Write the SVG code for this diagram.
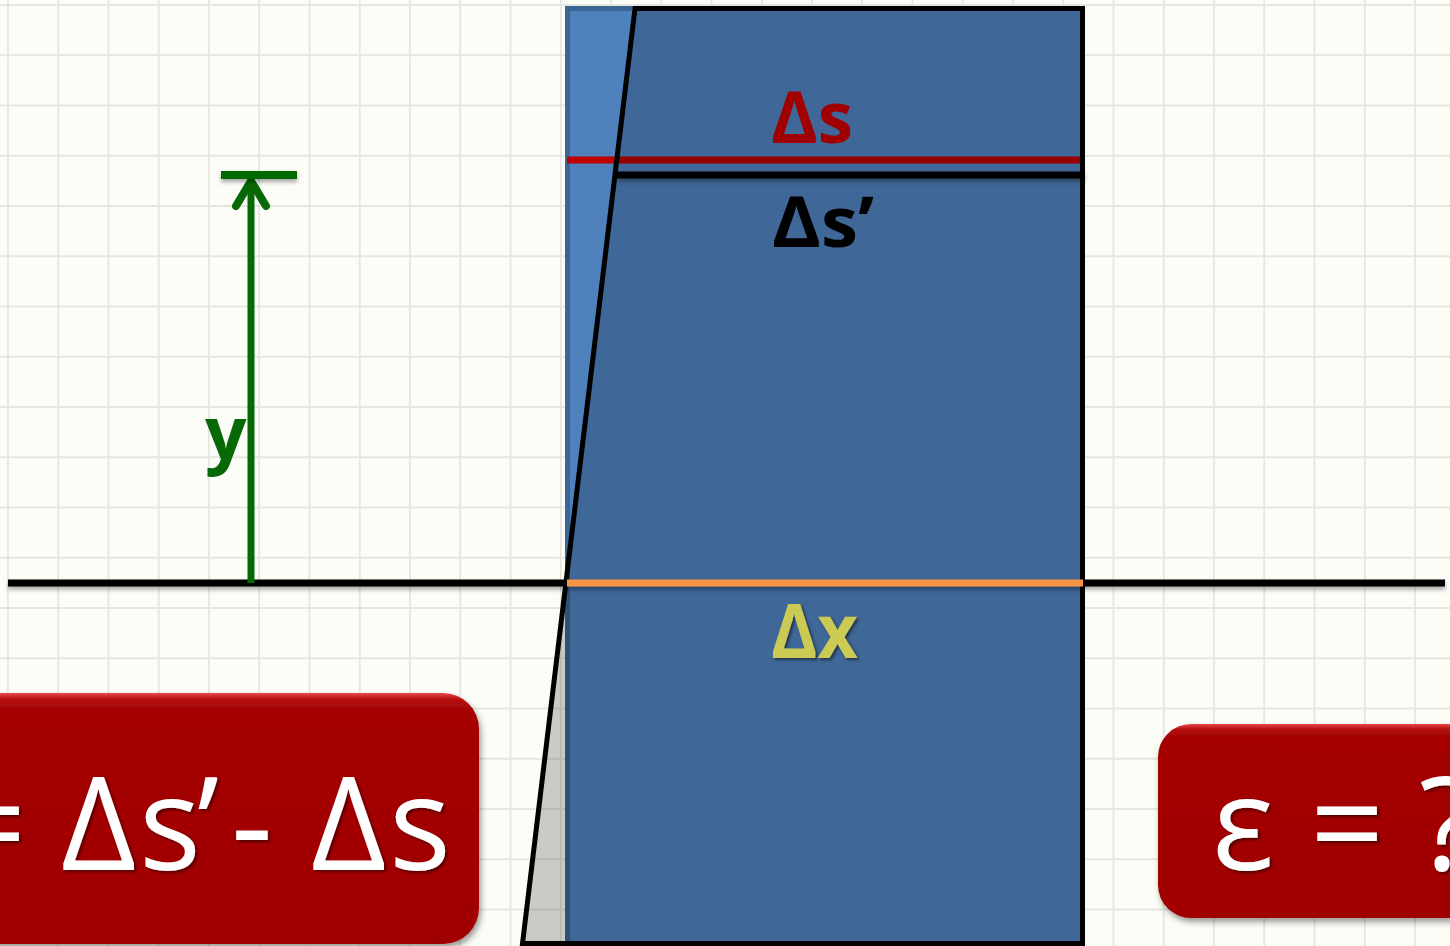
<svg xmlns="http://www.w3.org/2000/svg" width="1450" height="946" viewBox="0 0 1450 946">
<style>
.grid{stroke:#E6E6E1;stroke-width:1.8;fill:none}
.lbl{font-family:"Open Sans","Noto Sans","Liberation Sans",sans-serif;font-weight:700}
.big{font-family:"Open Sans","Noto Sans","Liberation Sans",sans-serif;font-size:130px;fill:#FFFFFF}
.box{fill:url(#boxg)}
</style>
<defs>
<linearGradient id="boxg" x1="0" y1="0" x2="0" y2="1">
<stop offset="0" stop-color="#E84A4A"/>
<stop offset="0.025" stop-color="#B81010"/>
<stop offset="0.06" stop-color="#A40606"/>
<stop offset="1" stop-color="#A00404"/>
</linearGradient>
<filter id="lsh" filterUnits="userSpaceOnUse" x="0" y="0" width="1450" height="946">
<feDropShadow dx="0" dy="3" stdDeviation="2" flood-color="#000" flood-opacity="0.35"/>
</filter>
<filter id="bsh" x="-10%" y="-10%" width="120%" height="130%">
<feDropShadow dx="2" dy="4" stdDeviation="3" flood-color="#000" flood-opacity="0.4"/>
</filter>
<filter id="tsh" x="-10%" y="-10%" width="120%" height="130%">
<feDropShadow dx="2" dy="2" stdDeviation="1.5" flood-color="#000" flood-opacity="0.5"/>
</filter>
</defs>

<g id="background">
<rect x="0" y="0" width="1450" height="946" fill="#FDFDF8"/>
<path class="grid" d="M8 0V946M58.25 0V946M108.5 0V946M158.75 0V946M209 0V946M259.25 0V946M309.5 0V946M359.75 0V946M410 0V946M460.25 0V946M510.5 0V946M560.75 0V946M611 0V946M661.25 0V946M711.5 0V946M761.75 0V946M812 0V946M862.25 0V946M912.5 0V946M962.75 0V946M1013 0V946M1063.25 0V946M1113.5 0V946M1163.75 0V946M1214 0V946M1264.25 0V946M1314.5 0V946M1364.75 0V946M1415 0V946M0 5H1450M0 55.25H1450M0 105.5H1450M0 155.75H1450M0 206H1450M0 256.25H1450M0 306.5H1450M0 356.75H1450M0 407H1450M0 457.25H1450M0 507.5H1450M0 557.75H1450M0 608H1450M0 658.25H1450M0 708.5H1450M0 758.75H1450M0 809H1450M0 859.25H1450M0 909.5H1450"/>
</g>

<g id="axis">
<line x1="8" y1="583" x2="1445" y2="583" stroke="#000" stroke-width="7" filter="url(#lsh)"/>
</g>

<g id="element">
<rect x="567.5" y="8.5" width="515" height="945" fill="#4F81BD" stroke="#3C6494" stroke-width="5"/>
<line x1="567" y1="160" x2="1081" y2="160" stroke="#C00000" stroke-width="7"/>
<polygon points="635,8.5 1082.5,8.5 1082.5,943.5 522.5,943.5" fill="#000" fill-opacity="0.2" stroke="#000" stroke-width="5" stroke-linejoin="miter"/>
<line x1="617" y1="175" x2="1085" y2="175" stroke="#000" stroke-width="7" filter="url(#lsh)"/>
<line x1="567" y1="583" x2="1083" y2="583" stroke="#F79646" stroke-width="7" filter="url(#lsh)"/>
</g>

<g id="labels">
<text class="lbl" x="771" y="143" font-size="71" fill="#A00000" textLength="82" lengthAdjust="spacingAndGlyphs">Δs</text>
<text class="lbl" x="772" y="247" font-size="70" fill="#000000" textLength="102" lengthAdjust="spacingAndGlyphs">Δs’</text>
<text class="lbl" x="771" y="658" font-size="76" fill="#CBCA55" filter="url(#tsh)" textLength="87" lengthAdjust="spacingAndGlyphs">Δx</text>
<text class="lbl" x="205" y="459" font-size="73" fill="#066906">y</text>
</g>

<g id="connectors">
<line x1="251" y1="583" x2="251" y2="182" stroke="#066906" stroke-width="7"/>
<polyline points="236,206 251,181 266,206" fill="none" stroke="#066906" stroke-width="8" stroke-linecap="round" stroke-linejoin="miter"/>
<line x1="221" y1="175" x2="297" y2="175" stroke="#066906" stroke-width="8" filter="url(#lsh)"/>
</g>

<g id="box-left">
<rect class="box" x="-40" y="693" width="519" height="251" rx="36" ry="36" filter="url(#bsh)"/>
<text class="big" filter="url(#tsh)" y="870" x="-48 20 61 139 197 231 275 311 389">= Δs’- Δs</text>
</g>

<g id="box-right">
<rect class="box" x="1158" y="724" width="330" height="194" rx="33" ry="33" filter="url(#bsh)"/>
<text class="big" filter="url(#tsh)" y="870" x="1212 1280 1310 1390 1419">ε = ?</text>
</g>
</svg>
